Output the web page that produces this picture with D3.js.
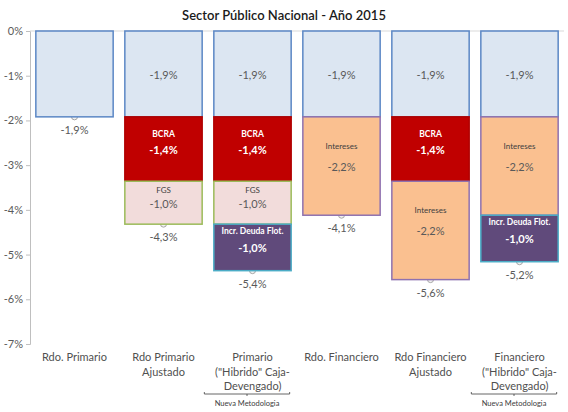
<!DOCTYPE html>
<html>
<head>
<meta charset="utf-8">
<script src="https://cdn.jsdelivr.net/npm/d3@7"></script>
<style>
  body { margin: 0; background: #fff; }
  svg { font-family: Lato, "Open Sans", sans-serif; }
</style>
</head>
<body>
<svg id="chart" width="568" height="412"></svg>
<script>
// data
const categories = [
  ['Rdo. Primario'],
  ['Rdo Primario', 'Ajustado'],
  ['Primario', '("Hibrido" Caja-', 'Devengado)'],
  ['Rdo. Financiero'],
  ['Rdo Financiero', 'Ajustado'],
  ['Financiero', '("Hibrido" Caja-', 'Devengado)']
];
const primario = [-1.92, -1.92, -1.92, -1.92, -1.92, -1.92];
const bcra = [0, -1.44, -1.44, 0, -1.44, 0];
const fgs = [0, -0.96, -0.96, 0, 0, 0];
const intereses = [0, 0, 0, -2.2, -2.2, -2.2];
const deudaFlot = [0, 0, -1.04, 0, 0, -1.04];
const yTicks = [0, -1, -2, -3, -4, -5, -6, -7];
const nuevaMetodologia = [2, 5];

const seriesDefs = [
  {key: 'primario', name: null, values: primario, fill: '#dce6f2', stroke: '#5b87c5', txt: '#595959', bold: false, nameDy: 0},
  {key: 'bcra', name: 'BCRA', values: bcra, fill: '#c00000', stroke: '#b00000', txt: '#ffffff', bold: true, nameDy: -15},
  {key: 'fgs', name: 'FGS', values: fgs, fill: '#f2dcdb', stroke: '#9bbb59', txt: '#404040', bold: false, nameDy: -13},
  {key: 'intereses', name: 'Intereses', values: intereses, fill: '#fac090', stroke: '#8f72b0', txt: '#404040', bold: false, nameDy: -20},
  {key: 'deuda', name: 'Incr. Deuda Flot.', values: deudaFlot, fill: '#604a7b', stroke: '#4bacc6', txt: '#ffffff', bold: true, nameDy: -16}
];

const table = categories.map((c, i) => {
  const row = {i: i};
  seriesDefs.forEach(s => { row[s.key] = s.values[i]; });
  return row;
});

const locale = d3.formatLocale({decimal: ',', thousands: '.', grouping: [3], currency: ['$', ''], minus: '-'});
const fmt = locale.format('.1f');
const pct = v => fmt(v) + '%';

const svg = d3.select('#chart');
const margin = {top: 31, right: 4, bottom: 68, left: 30};
const width = 568 - margin.left - margin.right;
const height = 412 - margin.top - margin.bottom;

const x = d3.scaleBand()
  .domain(d3.range(categories.length))
  .range([0, width])
  .paddingInner(0.12)
  .paddingOuter(0.06);
const y = d3.scaleLinear().domain([0, -7]).range([0, height]);

const g = svg.append('g').attr('transform', `translate(${margin.left},${margin.top})`);

svg.append('text')
  .attr('x', 284).attr('y', 20)
  .attr('text-anchor', 'middle')
  .attr('font-size', 13).attr('font-weight', 600)
  .attr('fill', '#1a1a1a')
  .text('Sector Público Nacional - Año 2015');

// y axis
const yAxis = g.append('g')
  .call(d3.axisLeft(y).tickValues(yTicks).tickSize(4).tickFormat(d => d + '%'));
yAxis.select('.domain').attr('stroke', '#bfbfbf');
yAxis.selectAll('.tick line').attr('stroke', '#bfbfbf');
yAxis.selectAll('.tick text')
  .attr('fill', '#595959').attr('font-size', 11)
  .attr('font-family', 'Lato, sans-serif').attr('x', -7);

// zero line
g.append('line')
  .attr('x1', 0).attr('x2', width)
  .attr('y1', y(0)).attr('y2', y(0))
  .attr('stroke', '#d9d9d9');

const stack = d3.stack()
  .keys(seriesDefs.map(s => s.key))
  .offset(d3.stackOffsetDiverging);
const stacked = stack(table);

const totals = table.map(r => d3.sum(seriesDefs, s => r[s.key]));
const nSegs = table.map(r => seriesDefs.filter(s => r[s.key] !== 0).length);

// markers for totals (behind the bars)
g.selectAll('.marker')
  .data(totals)
  .enter().append('circle')
  .attr('class', 'marker')
  .attr('cx', (d, i) => x(i) + x.bandwidth() / 2)
  .attr('cy', d => y(d))
  .attr('r', 3)
  .attr('fill', '#f2f2f2')
  .attr('stroke', '#a6a6a6');

stacked.forEach((layer, k) => {
  const s = seriesDefs[k];
  const segs = layer.filter(d => d[1] - d[0] !== 0);

  g.selectAll('.seg-' + s.key)
    .data(segs)
    .enter().append('rect')
    .attr('class', 'seg-' + s.key)
    .attr('x', d => x(d.data.i) + 0.5)
    .attr('y', d => y(d[1]))
    .attr('width', x.bandwidth() - 1)
    .attr('height', d => y(d[0]) - y(d[1]))
    .attr('fill', s.fill)
    .attr('stroke', s.stroke)
    .attr('stroke-width', 1.5);

  const lab = segs.filter(d => nSegs[d.data.i] > 1);
  g.selectAll('.val-' + s.key)
    .data(lab)
    .enter().append('text')
    .attr('x', d => x(d.data.i) + x.bandwidth() / 2)
    .attr('y', d => (y(d[0]) + y(d[1])) / 2 + 5)
    .attr('text-anchor', 'middle')
    .attr('font-size', 11)
    .attr('font-weight', s.bold ? 700 : 400)
    .attr('fill', s.bold ? '#fff' : '#595959')
    .text(d => pct(d[0] - d[1]));

  if (s.name) {
    g.selectAll('.name-' + s.key)
      .data(lab)
      .enter().append('text')
      .attr('x', d => x(d.data.i) + x.bandwidth() / 2)
      .attr('y', d => (y(d[0]) + y(d[1])) / 2 + 3 + s.nameDy)
      .attr('text-anchor', 'middle')
      .attr('font-size', s.bold ? 8.5 : 8)
      .attr('font-weight', s.bold ? 700 : 400)
      .attr('fill', s.txt)
      .text(s.name);
  }
});

// total labels below bars
g.selectAll('.total')
  .data(totals)
  .enter().append('text')
  .attr('class', 'total')
  .attr('x', (d, i) => x(i) + x.bandwidth() / 2)
  .attr('y', d => y(d) + 17)
  .attr('text-anchor', 'middle')
  .attr('font-size', 11)
  .attr('fill', '#595959')
  .text(d => pct(d));

// category labels
const cat = g.selectAll('.cat')
  .data(categories)
  .enter().append('text')
  .attr('class', 'cat')
  .attr('text-anchor', 'middle')
  .attr('font-size', 11)
  .attr('fill', '#505050')
  .attr('transform', (d, i) => `translate(${x(i) + x.bandwidth() / 2},${height + 17})`);
cat.selectAll('tspan')
  .data(d => d)
  .enter().append('tspan')
  .attr('x', 0)
  .attr('y', (d, j) => j * 14.5)
  .text(d => d);

// "Nueva Metodologia" brackets
nuevaMetodologia.forEach(i => {
  const x0 = x(i) - 9, x1 = x(i) + x.bandwidth() - 2;
  const yb = height + 50;
  const xm = (x0 + x1) / 2;
  g.append('path')
    .attr('d', `M${x0},${yb - 2}V${yb}H${x1}V${yb - 2}M${xm},${yb}V${yb + 2}`)
    .attr('fill', 'none')
    .attr('stroke', '#404040')
    .attr('stroke-width', 0.8);
  g.append('text')
    .attr('x', xm).attr('y', yb + 12)
    .attr('text-anchor', 'middle')
    .attr('font-size', 7.5)
    .attr('fill', '#404040')
    .text('Nueva Metodologia');
});
</script>
</body>
</html>
